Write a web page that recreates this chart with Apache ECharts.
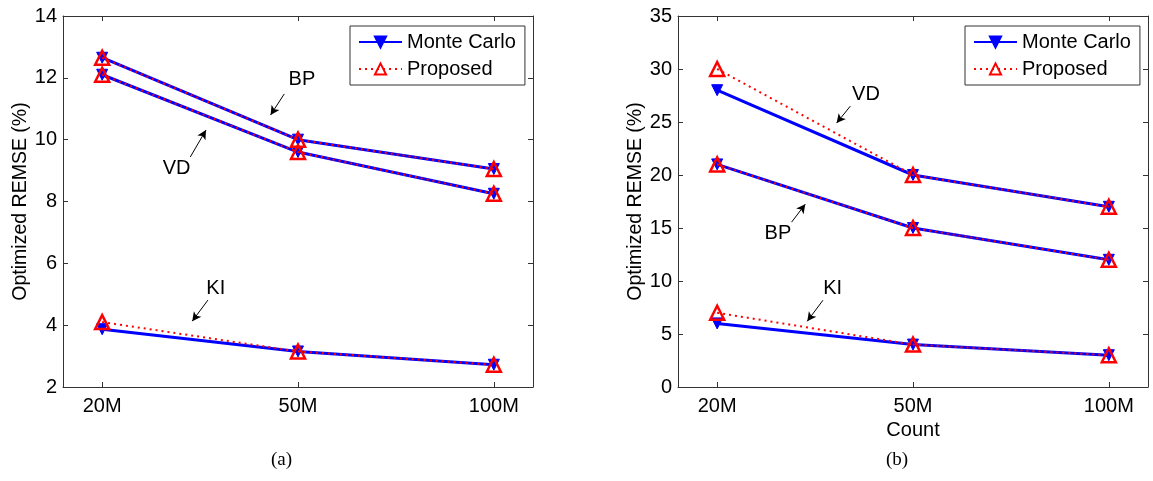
<!DOCTYPE html>
<html>
<head>
<meta charset="utf-8">
<script src="https://cdn.jsdelivr.net/npm/echarts@6/dist/echarts.min.js"></script>
<style>
  html, body { margin: 0; padding: 0; background: #fff; }
  #chart { width: 1153px; height: 481px; }
</style>
</head>
<body>
<div id="chart"></div>
<script>
(function() {
  // --- data ---
  var categories = ['20M', '50M', '100M'];

  // (a)
  var aBP_mc = [12.65, 10.0, 9.05];
  var aBP_pr = [12.65, 10.0, 9.05];
  var aVD_mc = [12.1, 9.6, 8.25];
  var aVD_pr = [12.1, 9.6, 8.25];
  var aKI_mc = [3.87, 3.15, 2.72];
  var aKI_pr = [4.1, 3.15, 2.72];

  // (b)
  var bVD_mc = [28, 20, 17];
  var bVD_pr = [30, 20, 17];
  var bBP_mc = [21, 15, 12];
  var bBP_pr = [21, 15, 12];
  var bKI_mc = [6, 4, 3];
  var bKI_pr = [7, 4, 3];

  // annotation text + arrow (from -> to), in data units
  var aNotes = [
    { text: 'BP', at: [1.02, 11.96], from: [0.93, 11.48], to: [0.86, 10.8] },
    { text: 'VD', at: [0.38, 9.08], from: [0.45, 9.44], to: [0.53, 10.31] },
    { text: 'KI', at: [0.58, 5.2], from: [0.54, 4.81], to: [0.46, 4.13] }
  ];
  var bNotes = [
    { text: 'VD', at: [0.76, 27.63], from: [0.68, 26.5], to: [0.61, 24.9] },
    { text: 'BP', at: [0.31, 14.5], from: [0.38, 15.55], to: [0.45, 17.25] },
    { text: 'KI', at: [0.59, 9.3], from: [0.54, 8.18], to: [0.46, 6.2] }
  ];

  var font = '"Liberation Sans", Arial, Helvetica, sans-serif';
  var serif = '"Liberation Serif", "Times New Roman", serif';
  var axisColor = '#333';
  var blue = '#0000ff';
  var red = '#ff0000';

  function pts(arr) {
    return arr.map(function(v, i) { return [i, v]; });
  }

  function notesMark(notes) {
    return {
      markLine: {
        silent: true,
        symbol: ['none', 'arrow'],
        symbolSize: [7, 9],
        label: { show: false },
        lineStyle: { color: '#000', width: 1, type: 'solid' },
        emphasis: { disabled: true },
        data: notes.map(function(n) {
          return [{ coord: n.from }, { coord: n.to }];
        })
      },
      markPoint: {
        silent: true,
        symbol: 'circle',
        symbolSize: 1,
        itemStyle: { color: 'transparent' },
        label: {
          show: true, position: 'inside', color: '#000',
          fontSize: 20, fontFamily: font,
          formatter: function(p) { return p.name; }
        },
        data: notes.map(function(n) { return { name: n.text, coord: n.at }; })
      }
    };
  }

  function mc(gi, data, notes) {
    var s = {
      name: 'Monte Carlo', type: 'line',
      xAxisIndex: gi * 2, yAxisIndex: gi * 2,
      data: pts(data),
      symbol: 'triangle', symbolRotate: 180, symbolSize: 11,
      lineStyle: { color: blue, width: 3 },
      itemStyle: { color: blue, borderColor: blue, borderWidth: 1 },
      z: 2
    };
    if (notes) {
      var m = notesMark(notes);
      s.markLine = m.markLine;
      s.markPoint = m.markPoint;
    }
    return s;
  }

  function pr(gi, data) {
    return {
      name: 'Proposed', type: 'line',
      xAxisIndex: gi * 2, yAxisIndex: gi * 2,
      data: pts(data),
      symbol: 'triangle', symbolSize: 14,
      lineStyle: { color: red, width: 2, type: [2, 4] },
      itemStyle: { color: 'rgba(255,255,255,0)', borderColor: red, borderWidth: 2.5 },
      z: 3
    };
  }

  function xAxes(gi, name) {
    var base = {
      type: 'value', gridIndex: gi, min: -0.2, max: 2.2,
      axisLine: { show: true, onZero: false, lineStyle: { color: axisColor } },
      axisTick: { show: true, inside: true, length: 5, customValues: [0, 1, 2], lineStyle: { color: axisColor } },
      splitLine: { show: false }
    };
    var bottom = Object.assign({}, base, {
      position: 'bottom',
      name: name || '',
      nameLocation: 'middle',
      nameGap: 29,
      nameTextStyle: { color: '#000', fontSize: 20, fontFamily: font },
      axisLabel: {
        color: '#000', fontSize: 20, fontFamily: font, margin: 9,
        customValues: [0, 1, 2],
        formatter: function(v) { return categories[Math.round(v)]; }
      }
    });
    var top = Object.assign({}, base, { position: 'top', axisLabel: { show: false } });
    return [bottom, top];
  }

  function yAxes(gi, min, max, step) {
    var base = {
      type: 'value', gridIndex: gi, min: min, max: max, interval: step,
      axisLine: { show: true, onZero: false, lineStyle: { color: axisColor } },
      axisTick: { show: true, inside: true, length: 5, lineStyle: { color: axisColor } },
      splitLine: { show: false }
    };
    var left = Object.assign({}, base, {
      position: 'left',
      name: 'Optimized REMSE (%)',
      nameLocation: 'middle',
      nameGap: 32,
      nameTextStyle: { color: '#000', fontSize: 19.5, fontFamily: font },
      axisLabel: { color: '#000', fontSize: 20, fontFamily: font, margin: 6 }
    });
    var right = Object.assign({}, base, { position: 'right', axisLabel: { show: false } });
    return [left, right];
  }

  function legend(left) {
    return {
      orient: 'vertical', left: left, top: 26,
      data: ['Monte Carlo', 'Proposed'],
      itemWidth: 43, itemHeight: 14, itemGap: 5,
      padding: [5, 9, 5, 8],
      borderColor: axisColor, borderWidth: 1, backgroundColor: '#fff',
      selectedMode: false,
      textStyle: { color: '#000', fontSize: 20, fontFamily: font, lineHeight: 22 }
    };
  }

  var chart = echarts.init(document.getElementById('chart'), null, { renderer: 'canvas' });
  chart.setOption({
    animation: false,
    backgroundColor: '#fff',
    grid: [
      { left: 63, top: 16, width: 470, height: 371 },
      { left: 678, top: 16, width: 470, height: 371 }
    ],
    xAxis: xAxes(0).concat(xAxes(1, 'Count')),
    yAxis: yAxes(0, 2, 14, 2).concat(yAxes(1, 0, 35, 5)),
    legend: [legend(350), legend(965)],
    graphic: [
      { type: 'text', left: 271, top: 451, style: { text: '(a)', fontSize: 19, fontFamily: serif, fill: '#000' } },
      { type: 'text', left: 886, top: 451, style: { text: '(b)', fontSize: 19, fontFamily: serif, fill: '#000' } }
    ],
    series: [
      mc(0, aBP_mc, [aNotes[0]]),
      mc(0, aVD_mc, [aNotes[1]]),
      mc(0, aKI_mc, [aNotes[2]]),
      pr(0, aBP_pr),
      pr(0, aVD_pr),
      pr(0, aKI_pr),
      mc(1, bVD_mc, [bNotes[0]]),
      mc(1, bBP_mc, [bNotes[1]]),
      mc(1, bKI_mc, [bNotes[2]]),
      pr(1, bVD_pr),
      pr(1, bBP_pr),
      pr(1, bKI_pr)
    ]
  });
  window.addEventListener('resize', function() { chart.resize(); });
})();
</script>
</body>
</html>
